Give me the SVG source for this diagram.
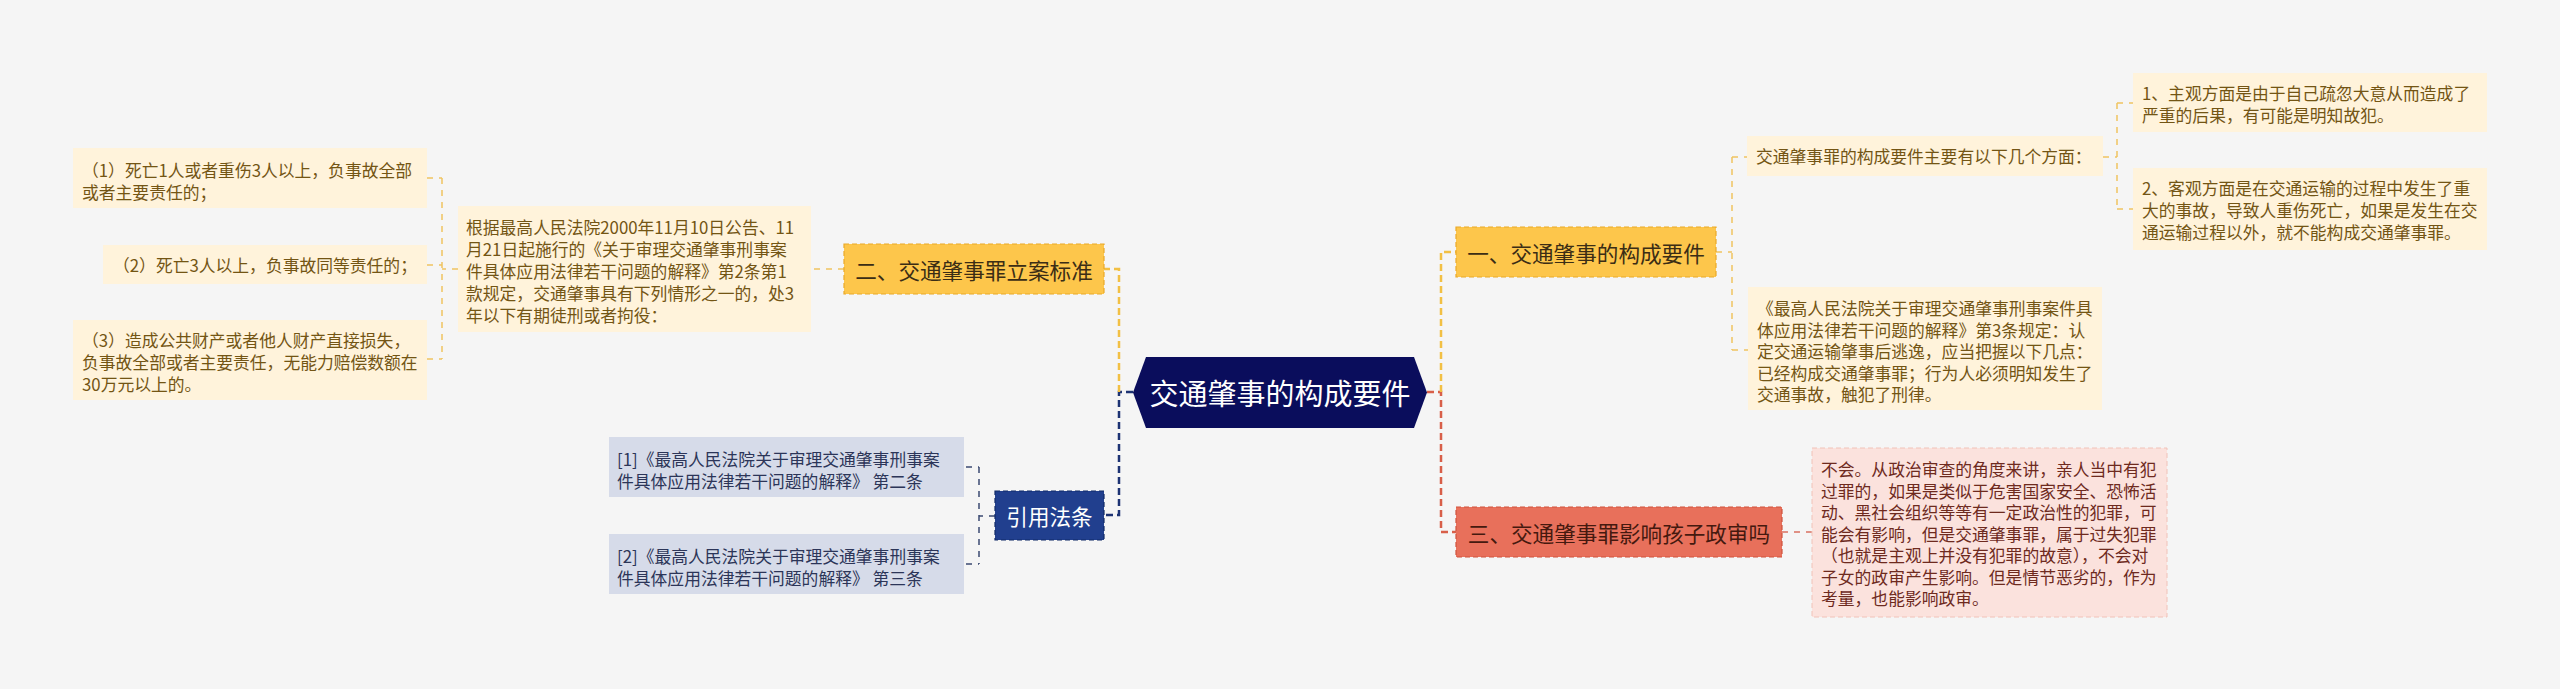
<svg xmlns="http://www.w3.org/2000/svg" width="2560" height="689" viewBox="0 0 2560 689">
<style>
text{font-family:"Noto Sans CJK SC","Noto Sans",sans-serif;dominant-baseline:central}
.bg{fill:#f5f5f5}
.ybox{fill:#fff3db}
.yt{font-size:16.8px;fill:#735514}
.ynode{fill:#fdc64b;stroke:#eaa928;stroke-width:1.2;stroke-dasharray:5 3}
.nt{font-size:21.6px;fill:#3b2d15;text-anchor:middle}
.bbox{fill:#d6dbe9}
.bt{font-size:16.8px;fill:#2c3558}
.bnode{fill:#213f8e;stroke:#112a66;stroke-width:1.2;stroke-dasharray:5 3}
.rbox{fill:#fbe2dd;stroke:#f1c2b8;stroke-width:1;stroke-dasharray:5 3}
.rt{font-size:16.8px;fill:#6e2a1e}
.rnode{fill:#e8705b;stroke:#cf523c;stroke-width:1.2;stroke-dasharray:5 3}
.c{fill:none}
.my{stroke:#f2c044;stroke-width:2.5;stroke-dasharray:7 4}
.mb{stroke:#1d3373;stroke-width:2.5;stroke-dasharray:7 4}
.mr{stroke:#d85f49;stroke-width:2.5;stroke-dasharray:7 4}
.sy{stroke:#efc460;stroke-width:1.5;stroke-dasharray:6 6}
.sb{stroke:#3b4a72;stroke-width:1.5;stroke-dasharray:6 6}
.sr{stroke:#d97060;stroke-width:1.5;stroke-dasharray:6 6}
</style>
<rect class="bg" x="0" y="0" width="2560" height="689"/>
<g id="connectors">
<path class="c mb" d="M1133,392 H1119 V515 H1104"/>
<path class="c my" d="M1119,392 V269 H1104"/>
<path class="c mr" d="M1427,392 H1441 V532 H1456"/>
<path class="c my" d="M1441,392 V252 H1456"/>
<path class="c sy" d="M844,269 H811"/>
<path class="c sy" d="M458,269 H442"/>
<path class="c sy" d="M442,178 V359"/>
<path class="c sy" d="M427,178 H442 M427,265 H442 M427,359 H442"/>
<path class="c sb" d="M995,516 H979 M979,467 V564 M966,467 H979 M966,564 H979"/>
<path class="c sy" d="M1716,252 H1732 M1732,157 V350 M1732,157 H1747 M1732,350 H1748"/>
<path class="c sy" d="M2103,157 H2117 M2117,103 V209 M2117,103 H2133 M2117,209 H2133"/>
<path class="c sr" d="M1782,532 H1812"/>
</g>
<g id="center">
<polygon points="1133,392.5 1146,357 1414,357 1427,392.5 1414,428 1146,428" fill="#0a0d5c"/>
<text x="1280" y="392" font-size="29" fill="#ffffff" text-anchor="middle">交通肇事的构成要件</text>
</g>
<g id="node-er">
<rect class="ynode" x="844" y="244" width="260" height="50"/>
<text class="nt" x="974" y="269">二、交通肇事罪立案标准</text>
</g>
<g id="node-er-detail">
<rect class="ybox" x="458" y="206" width="353" height="126"/>
<text class="yt" x="466" y="227">根据最高人民法院2000年11月10日公告、11</text>
<text class="yt" x="466" y="249">月21日起施行的《关于审理交通肇事刑事案</text>
<text class="yt" x="466" y="271">件具体应用法律若干问题的解释》第2条第1</text>
<text class="yt" x="466" y="293">款规定，交通肇事具有下列情形之一的，处3</text>
<text class="yt" x="466" y="315">年以下有期徒刑或者拘役：</text>
</g>
<g id="node-er-1">
<rect class="ybox" x="73" y="148" width="354" height="60"/>
<text class="yt" x="82" y="170">（1）死亡1人或者重伤3人以上，负事故全部</text>
<text class="yt" x="82" y="192">或者主要责任的；</text>
</g>
<g id="node-er-2">
<rect class="ybox" x="103" y="245" width="324" height="39"/>
<text class="yt" x="113" y="265">（2）死亡3人以上，负事故同等责任的；</text>
</g>
<g id="node-er-3">
<rect class="ybox" x="73" y="320" width="354" height="80"/>
<text class="yt" x="82" y="340">（3）造成公共财产或者他人财产直接损失，</text>
<text class="yt" x="82" y="362">负事故全部或者主要责任，无能力赔偿数额在</text>
<text class="yt" x="82" y="384">30万元以上的。</text>
</g>
<g id="node-ref">
<rect class="bnode" x="995" y="491" width="109" height="49"/>
<text class="nt" x="1049.5" y="515.5" style="fill:#ffffff">引用法条</text>
</g>
<g id="node-ref-1">
<rect class="bbox" x="609" y="437" width="355" height="60"/>
<text class="bt" x="617" y="459">[1]《最高人民法院关于审理交通肇事刑事案</text>
<text class="bt" x="617" y="481">件具体应用法律若干问题的解释》 第二条</text>
</g>
<g id="node-ref-2">
<rect class="bbox" x="609" y="534" width="355" height="60"/>
<text class="bt" x="617" y="556">[2]《最高人民法院关于审理交通肇事刑事案</text>
<text class="bt" x="617" y="578">件具体应用法律若干问题的解释》 第三条</text>
</g>
<g id="node-yi">
<rect class="ynode" x="1456" y="227" width="260" height="50"/>
<text class="nt" x="1586" y="252">一、交通肇事的构成要件</text>
</g>
<g id="node-yi-a">
<rect class="ybox" x="1747" y="136" width="356" height="40"/>
<text class="yt" x="1756" y="156">交通肇事罪的构成要件主要有以下几个方面：</text>
</g>
<g id="node-yi-a1">
<rect class="ybox" x="2133" y="73" width="354" height="59"/>
<text class="yt" x="2142" y="93">1、主观方面是由于自己疏忽大意从而造成了</text>
<text class="yt" x="2142" y="115">严重的后果，有可能是明知故犯。</text>
</g>
<g id="node-yi-a2">
<rect class="ybox" x="2133" y="168" width="354" height="82"/>
<text class="yt" x="2142" y="188">2、客观方面是在交通运输的过程中发生了重</text>
<text class="yt" x="2142" y="210">大的事故，导致人重伤死亡，如果是发生在交</text>
<text class="yt" x="2142" y="232">通运输过程以外，就不能构成交通肇事罪。</text>
</g>
<g id="node-yi-b">
<rect class="ybox" x="1748" y="287" width="354" height="123"/>
<text class="yt" x="1757" y="308">《最高人民法院关于审理交通肇事刑事案件具</text>
<text class="yt" x="1757" y="329.5">体应用法律若干问题的解释》第3条规定：认</text>
<text class="yt" x="1757" y="351">定交通运输肇事后逃逸，应当把握以下几点：</text>
<text class="yt" x="1757" y="372.5">已经构成交通肇事罪；行为人必须明知发生了</text>
<text class="yt" x="1757" y="394">交通事故，触犯了刑律。</text>
</g>
<g id="node-san">
<rect class="rnode" x="1456" y="507" width="326" height="50"/>
<text class="nt" x="1619" y="532" style="fill:#45190f">三、交通肇事罪影响孩子政审吗</text>
</g>
<g id="node-san-a">
<rect class="rbox" x="1812" y="448" width="355" height="169"/>
<text class="rt" x="1821" y="469">不会。从政治审查的角度来讲，亲人当中有犯</text>
<text class="rt" x="1821" y="490.5">过罪的，如果是类似于危害国家安全、恐怖活</text>
<text class="rt" x="1821" y="512">动、黑社会组织等等有一定政治性的犯罪，可</text>
<text class="rt" x="1821" y="533.5">能会有影响，但是交通肇事罪，属于过失犯罪</text>
<text class="rt" x="1821" y="555">（也就是主观上并没有犯罪的故意），不会对</text>
<text class="rt" x="1821" y="576.5">子女的政审产生影响。但是情节恶劣的，作为</text>
<text class="rt" x="1821" y="598">考量，也能影响政审。</text>
</g>
</svg>
